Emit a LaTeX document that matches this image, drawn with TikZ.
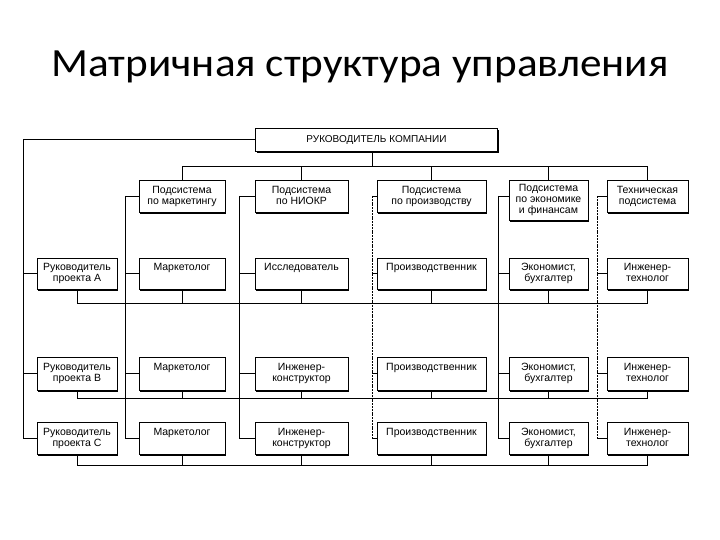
\documentclass[tikz,border=0pt]{standalone}
\usepackage{fontspec}
\setmainfont{Liberation Sans}
\newfontfamily\titlefont[FakeStretch=1.08]{Carlito}
\usetikzlibrary{shadows}

\tikzset{
  cell/.style={draw, fill=white, line width=0.8pt, align=center, inner sep=0pt,
    anchor=north, font=\fontsize{10.5}{11}\selectfont, text depth=2.6pt,
    general shadow={fill=black, shadow xshift=1.2pt, shadow yshift=-1.2pt}},
  colP/.style={minimum width=80},
  colM/.style={minimum width=86},
  colR/.style={minimum width=93},
  colPr/.style={minimum width=109},
  colE/.style={minimum width=79},
  colT/.style={minimum width=81},
  wire/.style={line width=0.9pt},
  dotwire/.style={line width=1pt, dash pattern=on 2pt off 0.8pt},
}

\begin{document}
\begin{tikzpicture}[x=1pt, y=-1pt]
\useasboundingbox (0,0) rectangle (720,540);

\node[font=\titlefont\fontsize{40}{48}\selectfont, anchor=base] (title) at (360,77) {Матричная структура управления};

\node[cell, minimum width=242, minimum height=23, font=\fontsize{10}{11}\selectfont] (boss) at (376.5,128) {РУКОВОДИТЕЛЬ КОМПАНИИ};

% subsystems
\node[cell, colM, minimum height=32] (mS) at (182,180) {Подсистема\\по маркетингу};
\node[cell, colR, minimum height=32] (rS) at (301.5,180) {Подсистема\\по НИОКР};
\node[cell, colPr, minimum height=32] (prS) at (431.5,180) {Подсистема\\по производству};
\node[cell, colE, minimum height=40] (eS) at (548.5,180) {Подсистема\\по экономике\\и финансам};
\node[cell, colT, minimum height=32] (tS) at (647.5,180) {Техническая\\подсистема};

% project rows
\foreach \r/\y/\h/\rtext in {A/258/31/{Исследователь\\~}, B/357/33/{Инженер-\\конструктор}, C/422/32/{Инженер-\\конструктор}} {
  \node[cell, colP, minimum height=\h] (p\r) at (77,\y) {Руководитель\\проекта \r};
  \node[cell, colM, minimum height=\h] (m\r) at (182,\y) {Маркетолог\\~};
  \node[cell, colR, minimum height=\h] (r\r) at (301.5,\y) {\rtext};
  \node[cell, colPr, minimum height=\h] (pr\r) at (431.5,\y) {Производственник\\~};
  \node[cell, colE, minimum height=\h] (e\r) at (548.5,\y) {Экономист,\\бухгалтер};
  \node[cell, colT, minimum height=\h] (t\r) at (647.5,\y) {Инженер-\\технолог};
}

% top level
\coordinate (topbar) at (0,166);
\draw[wire] ([xshift=-4pt]boss.south) -- ([xshift=-4pt]boss.south |- topbar);
\draw[wire] (mS.north) |- (topbar -| tS.north) -- (tS.north);
\foreach \col in {r,pr,e}
  \draw[wire] (\col S.north) -- (\col S.north |- topbar);

% project managers
\coordinate (pbus) at (23,0);
\draw[wire] (boss.west) -| (pbus |- pC.west) -- (pC.west);
\foreach \r in {A,B}
  \draw[wire] (pbus |- p\r.west) -- (p\r.west);

% subsystem buses
\foreach \col/\x/\s in {m/125/wire, r/239/wire, pr/372/dotwire, e/498/wire, t/597/dotwire} {
  \coordinate (\col bus) at (\x,196);
  \draw[wire] (\col bus) -- (\col bus -| \col S.west);
  \draw[\s] (\col bus) -- (\col bus |- \col C.west);
  \foreach \r in {A,B,C}
    \draw[wire] (\col bus |- \col\r.west) -- (\col\r.west);
}

% project links
\foreach \r/\yb in {A/303, B/398, C/465} {
  \coordinate (bar\r) at (0,\yb);
  \draw[wire] (p\r.south) |- (bar\r -| t\r.south) -- (t\r.south);
  \foreach \col in {m,r,pr,e}
    \draw[wire] (\col\r.south) -- (\col\r.south |- bar\r);
}
\end{tikzpicture}
\end{document}
